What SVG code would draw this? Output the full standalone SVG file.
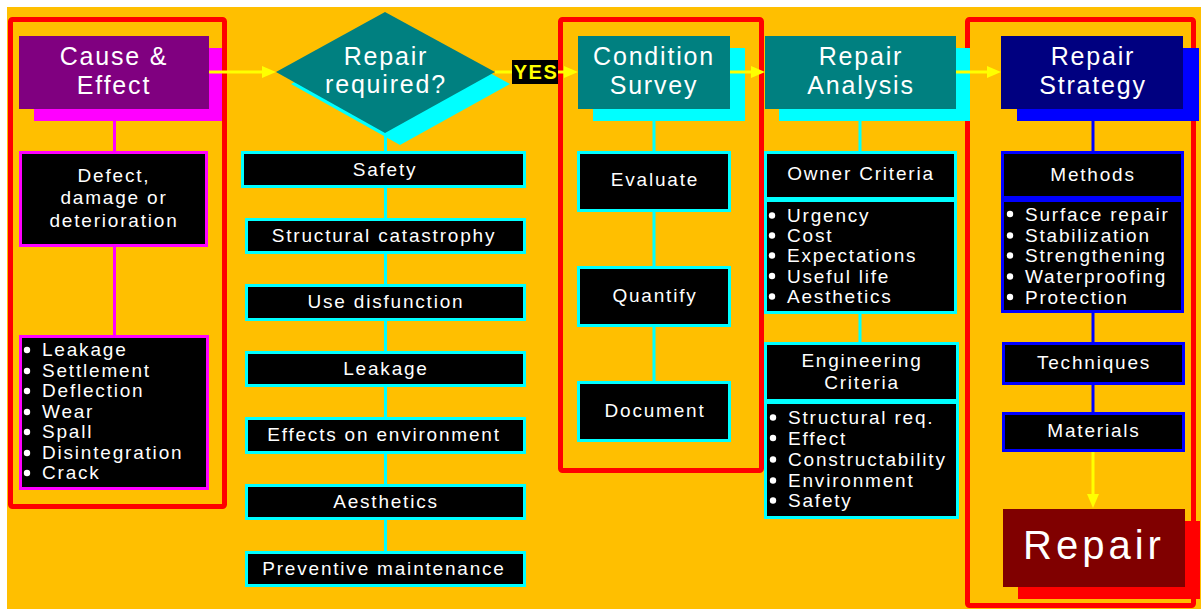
<svg xmlns="http://www.w3.org/2000/svg" width="1201" height="609" viewBox="0 0 1201 609">
<style>
.t{font-family:"Liberation Sans",Arial,sans-serif;fill:#FFFFFF;text-anchor:middle}
.h{font-size:25px;letter-spacing:1.8px}
.s{font-size:19px;letter-spacing:1.8px}
.l{font-size:19px;letter-spacing:1.8px;text-anchor:start}
.frame{fill:none;stroke:#FF0000;stroke-width:5}
.bm{fill:#000;stroke:#FF00FF;stroke-width:3}
.bc{fill:#000;stroke:#00FFFF;stroke-width:3}
.bb{fill:#000;stroke:#0000FF;stroke-width:3}
.cm{stroke:#FF00FF;stroke-width:3}
.cc{stroke:#00FFFF;stroke-width:3}
.cb{stroke:#0000FF;stroke-width:3}
.cy{stroke:#FFFF00;stroke-width:3;fill:none}
.dot{fill:#FFFFFF}
</style>
<defs>
<marker id="ah" markerUnits="userSpaceOnUse" markerWidth="14" markerHeight="12" refX="4" refY="6" orient="auto">
<path d="M0,0 L14,6 L0,12 Z" fill="#FFFF00"/>
</marker>
</defs>
<rect x="0" y="0" width="1201" height="609" fill="#FFFFFF"/>
<rect x="7" y="7" width="1194" height="602" fill="#FFBF00"/>

<g id="frames">
<rect class="frame" x="10.5" y="19.5" width="214" height="487" rx="2"/>
<rect class="frame" x="560.5" y="19.5" width="201" height="451" rx="2"/>
<rect class="frame" x="967.5" y="19.5" width="226" height="586" rx="2"/>
</g>

<g id="cause-effect">
<rect x="34" y="48" width="188" height="73" fill="#FF00FF"/>
<rect x="19" y="36" width="190" height="73" fill="#800080"/>
<text class="t h" x="114" y="65">Cause &amp;</text>
<text class="t h" x="114" y="94">Effect</text>
</g>
<g id="defect">
<rect class="bm" x="20.5" y="152.5" width="186" height="93"/>
<text class="t s" x="114" y="182">Defect,</text>
<text class="t s" x="114" y="204">damage or</text>
<text class="t s" x="114" y="227">deterioration</text>
</g>
<g id="defect-list">
<rect class="bm" x="20.5" y="336.5" width="187" height="152"/>
<g class="dot">
<circle cx="27" cy="350" r="3.2"/><circle cx="27" cy="371" r="3.2"/><circle cx="27" cy="391" r="3.2"/><circle cx="27" cy="412" r="3.2"/><circle cx="27" cy="432" r="3.2"/><circle cx="27" cy="453" r="3.2"/><circle cx="27" cy="473" r="3.2"/>
</g>
<text class="t l" x="42" y="356">Leakage</text>
<text class="t l" x="42" y="377">Settlement</text>
<text class="t l" x="42" y="397">Deflection</text>
<text class="t l" x="42" y="418">Wear</text>
<text class="t l" x="42" y="438">Spall</text>
<text class="t l" x="42" y="459">Disintegration</text>
<text class="t l" x="42" y="479">Crack</text>
</g>

<g id="repair-required">
<polygon points="291,84 400,24 510,84 400,145" fill="#00FFFF"/>
<polygon points="276,72 385,12 495,72 385,133" fill="#008080"/>
<text class="t h" x="386" y="65">Repair</text>
<text class="t h" x="386" y="93">required?</text>
</g>
<g id="yes">
<rect x="512" y="60" width="46" height="24" fill="#000000"/>
<text x="536" y="79" font-family="Liberation Sans, Arial, sans-serif" font-size="20" font-weight="bold" letter-spacing="1.5" fill="#FFFF00" text-anchor="middle">YES</text>
</g>

<g id="safety"><rect class="bc" x="242.5" y="152.5" width="282" height="34"/><text class="t s" x="385" y="176">Safety</text></g>
<g id="structural"><rect class="bc" x="246.5" y="219.5" width="278" height="33"/><text class="t s" x="384" y="242">Structural catastrophy</text></g>
<g id="use-disfunction"><rect class="bc" x="246.5" y="285.5" width="278" height="34"/><text class="t s" x="386" y="308">Use disfunction</text></g>
<g id="leakage"><rect class="bc" x="246.5" y="352.5" width="278" height="33"/><text class="t s" x="386" y="375">Leakage</text></g>
<g id="effects-env"><rect class="bc" x="246.5" y="418.5" width="278" height="34"/><text class="t s" x="384" y="441">Effects on environment</text></g>
<g id="aesthetics"><rect class="bc" x="246.5" y="485.5" width="278" height="33"/><text class="t s" x="386" y="508">Aesthetics</text></g>
<g id="preventive"><rect class="bc" x="246.5" y="552.5" width="278" height="33"/><text class="t s" x="384" y="575">Preventive maintenance</text></g>

<g id="condition-survey">
<rect x="593" y="48" width="152" height="73" fill="#00FFFF"/>
<rect x="578" y="36" width="152" height="73" fill="#008080"/>
<text class="t h" x="654" y="65">Condition</text>
<text class="t h" x="654" y="94">Survey</text>
</g>
<g id="evaluate"><rect class="bc" x="578.5" y="152.5" width="151" height="58"/><text class="t s" x="655" y="186">Evaluate</text></g>
<g id="quantify"><rect class="bc" x="578.5" y="267.5" width="151" height="58"/><text class="t s" x="655" y="302">Quantify</text></g>
<g id="document"><rect class="bc" x="578.5" y="382.5" width="151" height="58"/><text class="t s" x="655" y="417">Document</text></g>

<g id="repair-analysis">
<rect x="779" y="48" width="191" height="73" fill="#00FFFF"/>
<rect x="765" y="36" width="191" height="73" fill="#008080"/>
<text class="t h" x="861" y="65">Repair</text>
<text class="t h" x="861" y="94">Analysis</text>
</g>
<g id="owner-criteria">
<rect class="bc" x="765.5" y="152.5" width="190" height="46"/>
<rect class="bc" x="765.5" y="200.5" width="190" height="112"/>
<text class="t s" x="861" y="180">Owner Criteria</text>
<g class="dot">
<circle cx="772" cy="215.5" r="3.2"/><circle cx="772" cy="235.5" r="3.2"/><circle cx="772" cy="255.5" r="3.2"/><circle cx="772" cy="276" r="3.2"/><circle cx="772" cy="296.5" r="3.2"/>
</g>
<text class="t l" x="787" y="222">Urgency</text>
<text class="t l" x="787" y="242">Cost</text>
<text class="t l" x="787" y="262">Expectations</text>
<text class="t l" x="787" y="282.5">Useful life</text>
<text class="t l" x="787" y="303">Aesthetics</text>
</g>
<g id="engineering-criteria">
<rect class="bc" x="765.5" y="343.5" width="192" height="57"/>
<rect class="bc" x="765.5" y="402.5" width="192" height="115"/>
<text class="t s" x="862" y="367">Engineering</text>
<text class="t s" x="862" y="389">Criteria</text>
<g class="dot">
<circle cx="773" cy="417.5" r="3.2"/><circle cx="773" cy="438" r="3.2"/><circle cx="773" cy="459.5" r="3.2"/><circle cx="773" cy="480.5" r="3.2"/><circle cx="773" cy="500.5" r="3.2"/>
</g>
<text class="t l" x="788" y="424">Structural req.</text>
<text class="t l" x="788" y="444.5">Effect</text>
<text class="t l" x="788" y="466">Constructability</text>
<text class="t l" x="788" y="487">Environment</text>
<text class="t l" x="788" y="507">Safety</text>
</g>

<g id="repair-strategy">
<rect x="1017" y="48" width="182" height="73" fill="#0000FF"/>
<rect x="1001" y="36" width="182" height="73" fill="#000080"/>
<text class="t h" x="1093" y="65">Repair</text>
<text class="t h" x="1093" y="94">Strategy</text>
</g>
<g id="methods">
<rect class="bb" x="1002.5" y="152.5" width="180" height="45"/>
<rect class="bb" x="1002.5" y="200.5" width="180" height="111"/>
<text class="t s" x="1093" y="181">Methods</text>
<g class="dot">
<circle cx="1010" cy="214" r="3.2"/><circle cx="1010" cy="235.5" r="3.2"/><circle cx="1010" cy="255.5" r="3.2"/><circle cx="1010" cy="276.5" r="3.2"/><circle cx="1010" cy="297" r="3.2"/>
</g>
<text class="t l" x="1025" y="221">Surface repair</text>
<text class="t l" x="1025" y="242">Stabilization</text>
<text class="t l" x="1025" y="262">Strengthening</text>
<text class="t l" x="1025" y="283">Waterproofing</text>
<text class="t l" x="1025" y="303.5">Protection</text>
</g>
<g id="techniques"><rect class="bb" x="1003.5" y="343.5" width="180" height="40"/><text class="t s" x="1094" y="369">Techniques</text></g>
<g id="materials"><rect class="bb" x="1003.5" y="413.5" width="180" height="37"/><text class="t s" x="1094" y="437">Materials</text></g>
<g id="repair">
<rect x="1018" y="521" width="182" height="78" fill="#FF0000"/>
<rect x="1003" y="509" width="182" height="78" fill="#800000"/>
<text class="t" x="1094" y="559" font-size="40" letter-spacing="4">Repair</text>
</g>

<g id="connectors">
<line class="cm" x1="114.5" y1="121" x2="114.5" y2="151"/>
<line class="cm" x1="114.5" y1="247" x2="114.5" y2="335"/>
<line class="cc" x1="385.5" y1="133" x2="385.5" y2="151"/>
<line class="cc" x1="385.5" y1="188" x2="385.5" y2="218"/>
<line class="cc" x1="385.5" y1="254" x2="385.5" y2="284"/>
<line class="cc" x1="385.5" y1="321" x2="385.5" y2="351"/>
<line class="cc" x1="385.5" y1="387" x2="385.5" y2="417"/>
<line class="cc" x1="385.5" y1="454" x2="385.5" y2="484"/>
<line class="cc" x1="385.5" y1="520" x2="385.5" y2="551"/>
<line class="cc" x1="654" y1="121" x2="654" y2="151"/>
<line class="cc" x1="654" y1="212" x2="654" y2="266"/>
<line class="cc" x1="654" y1="327" x2="654" y2="381"/>
<line class="cc" x1="860" y1="121" x2="860" y2="151"/>
<line class="cc" x1="860" y1="314" x2="860" y2="342"/>
<line class="cb" x1="1093" y1="121" x2="1093" y2="151"/>
<line class="cb" x1="1093" y1="313" x2="1093" y2="342"/>
<line class="cb" x1="1093" y1="385" x2="1093" y2="412"/>
<line class="cy" x1="209" y1="72" x2="266" y2="72" marker-end="url(#ah)"/>
<line class="cy" x1="495" y1="72" x2="512" y2="72"/>
<line class="cy" x1="558" y1="72" x2="568" y2="72" marker-end="url(#ah)"/>
<line class="cy" x1="730" y1="72" x2="755" y2="72" marker-end="url(#ah)"/>
<line class="cy" x1="956" y1="72" x2="991" y2="72" marker-end="url(#ah)"/>
<line class="cy" x1="1093" y1="452" x2="1093" y2="498" marker-end="url(#ah)"/>
</g>
</svg>
